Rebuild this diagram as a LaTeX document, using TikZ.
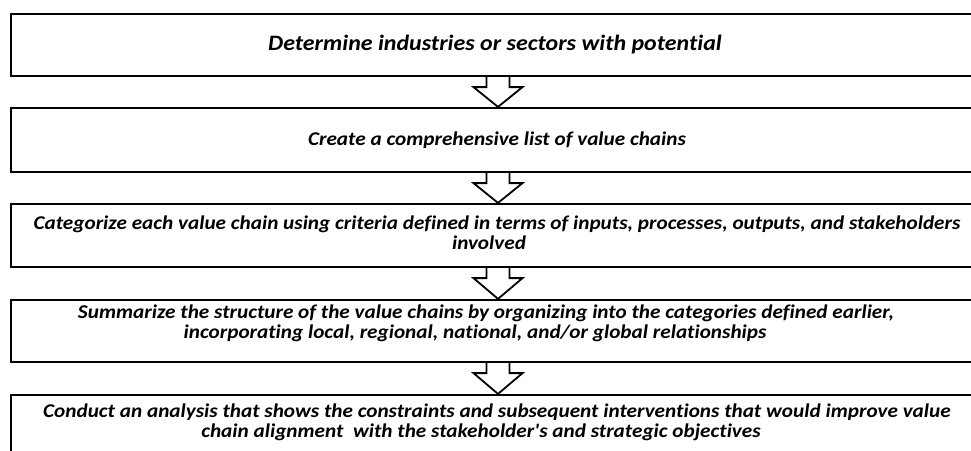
\documentclass[tikz,border=0pt]{standalone}
\usepackage{fontspec}
\setmainfont{Carlito}
\newfontfamily\stepfont[FakeStretch=1.088, Ligatures=NoCommon]{Carlito}
\usetikzlibrary{calc}

\tikzset{
  stepbox/.style={draw=black, line width=2.2pt, fill=white, rectangle,
    minimum width=974pt, inner sep=0pt},
  steptext/.style={align=center, font=\stepfont\bfseries\itshape\fontsize{19.5}{20}\selectfont,
    inner sep=0pt},
  headtext/.style={steptext, font=\stepfont\bfseries\itshape\fontsize{22}{24}\selectfont},
  flowarrow/.style={draw=black, line width=1.8pt, fill=white, line join=miter}
}

% block arrow from the bottom edge of one box to the top edge of the next
\newcommand{\blockarrow}[2]{%
  \draw[flowarrow]
    ($(#1.south)+(-11.5,0)$) -- ++(0,10) -- ++(-13,0) --
    (#2.north) -- ($(#1.south)+(24.5,10)$) -- ++(-13,0) --
    ($(#1.south)+(11.5,0)$);
}

\begin{document}
\begin{tikzpicture}[x=1pt, y=-1pt]
  \path[use as bounding box, clip] (0,0) rectangle (971,450);
  \fill[white] (0,0) rectangle (971,450);

  % boxes
  \node[stepbox, minimum height=62pt] (b1) at (498,45) {};
  \node[stepbox, minimum height=64pt] (b2) at (498,140) {};
  \node[stepbox, minimum height=63pt] (b3) at (498,235.5) {};
  \node[stepbox, minimum height=62pt] (b4) at (498,331) {};
  \node[stepbox, minimum height=62pt] (b5) at (498,426) {};

  % captions
  \node[headtext] (t1) at (495,45)
    {Determine industries or sectors with potential};
  \node[steptext] (t2) at (497,140)
    {Create a comprehensive list of value chains};
  \node[steptext] (t3) at (497,233)
    {Categorize each value chain using criteria defined in terms of inputs, processes, outputs, and stakeholders\\involved\hspace*{16pt}};
  \node[steptext] (t4) at (486,323)
    {Summarize the structure of the value chains by organizing into the categories defined earlier,\\incorporating local, regional, national, and/or global relationships\hspace*{22pt}};
  \node[steptext] (t5) at (497,422.5)
    {Conduct an analysis that shows the constraints and subsequent interventions that would improve value\\chain alignment\ \ with the stakeholder's and strategic objectives\hspace*{32pt}};

  % connectors
  \blockarrow{b1}{b2}
  \blockarrow{b2}{b3}
  \blockarrow{b3}{b4}
  \blockarrow{b4}{b5}
\end{tikzpicture}
\end{document}
